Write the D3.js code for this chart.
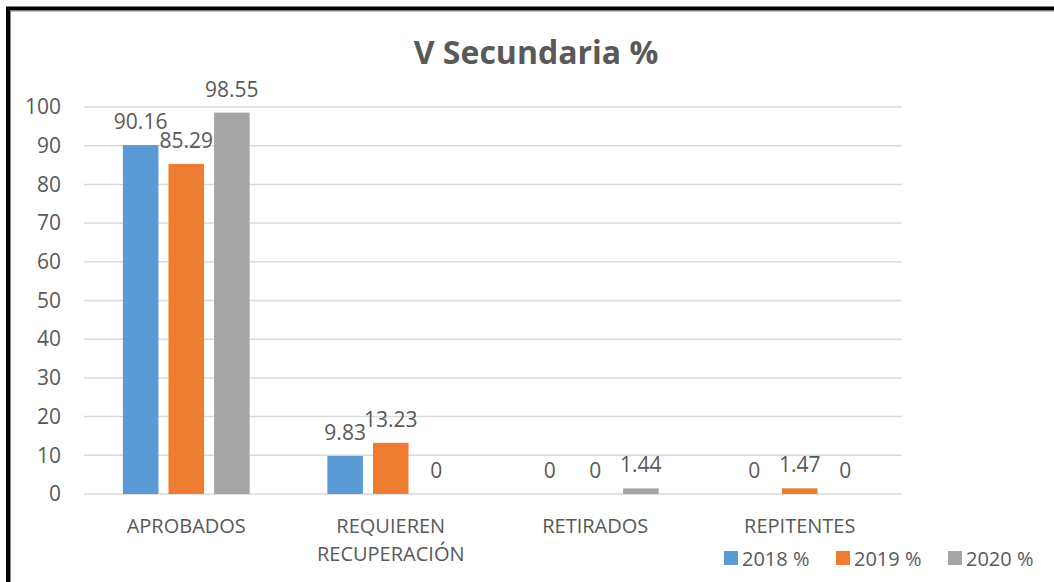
<!DOCTYPE html>
<html>
<head>
<meta charset="utf-8">
<script src="https://cdn.jsdelivr.net/npm/d3@7"></script>
<style>
  body { margin: 0; background: #fff; }
  svg text { font-family: "Open Sans", sans-serif; fill: #595959; }
</style>
</head>
<body>
<svg id="chart"></svg>
<script>
// categories, series and ticks
const categories = [["APROBADOS"], ["REQUIEREN", "RECUPERACIÓN"], ["RETIRADOS"], ["REPITENTES"]];
const seriesNames = ["2018 %", "2019 %", "2020 %"];
const values2018 = [90.16, 9.83, 0, 0];
const values2019 = [85.29, 13.23, 0, 1.47];
const values2020 = [98.55, 0, 1.44, 0];
const yTicks = [0, 10, 20, 30, 40, 50, 60, 70, 80, 90, 100];
const colors = ["#5b9bd5", "#ed7d31", "#a5a5a5"];

const W = 1054, H = 582;
const margin = { top: 107, right: 152, bottom: 88, left: 84 };
const width = W - margin.left - margin.right;
const height = H - margin.top - margin.bottom;

const svg = d3.select("#chart").attr("width", W).attr("height", H);

// frame
svg.append("rect")
    .attr("x", 8).attr("y", 8.5)
    .attr("width", W + 20).attr("height", H + 20)
    .attr("fill", "none").attr("stroke", "#000").attr("stroke-width", 4);
svg.append("rect")
    .attr("x", 10.5).attr("y", 11)
    .attr("width", W + 20).attr("height", H + 20)
    .attr("fill", "none").attr("stroke", "#808080").attr("stroke-width", 1);

const g = svg.append("g").attr("transform", `translate(${margin.left},${margin.top})`);

const keys = categories.map(c => c.join(" "));
const series = [values2018, values2019, values2020];

const x = d3.scaleBand().domain(keys).range([0, width]).paddingInner(0).paddingOuter(0);
const x1 = d3.scaleBand().domain(d3.range(seriesNames.length))
    .range([x.bandwidth() * 0.19, x.bandwidth() * 0.81]).paddingInner(0.22);
const y = d3.scaleLinear().domain([0, 100]).range([height, 0]);

// gridlines
g.append("g")
    .selectAll("line")
    .data(yTicks)
    .join("line")
    .attr("x1", 0).attr("x2", width)
    .attr("y1", d => y(d)).attr("y2", d => y(d))
    .attr("stroke", "#d9d9d9").attr("stroke-width", 1.5);

// y axis
const yAxis = d3.axisLeft(y).tickValues(yTicks).tickSize(0).tickPadding(23);
g.append("g").call(yAxis)
    .call(a => a.select(".domain").remove())
    .selectAll("text")
    .style("font-size", "21px")
    .attr("fill", "#595959");

// bars
keys.forEach((k, ci) => {
    const grp = g.append("g").attr("transform", `translate(${x(k)},0)`);
    series.forEach((vals, si) => {
        const v = vals[ci];
        grp.append("rect")
            .attr("x", x1(si))
            .attr("y", y(v))
            .attr("width", x1.bandwidth())
            .attr("height", height - y(v))
            .attr("fill", colors[si]);
        grp.append("text")
            .attr("x", x1(si) + x1.bandwidth() / 2)
            .attr("y", y(v) - 16)
            .attr("text-anchor", "middle")
            .style("font-size", "21px")
            .text(v);
    });
});

// category labels
const xl = g.append("g").attr("transform", `translate(0,${height})`);
categories.forEach((lines, ci) => {
    const t = xl.append("text")
        .attr("x", x(keys[ci]) + x.bandwidth() / 2)
        .attr("y", 39)
        .attr("text-anchor", "middle")
        .style("font-size", "20px");
    lines.forEach((l, i) => {
        t.append("tspan")
            .attr("x", x(keys[ci]) + x.bandwidth() / 2)
            .attr("dy", i === 0 ? 0 : 28)
            .text(l);
    });
});

// title
svg.append("text")
    .attr("x", 536).attr("y", 64)
    .attr("text-anchor", "middle")
    .style("font-size", "32px")
    .style("font-weight", "bold")
    .text("V Secundaria %");

// legend
const legendX = [724, 836, 948];
const legend = svg.append("g").attr("transform", "translate(0,551)");
seriesNames.forEach((n, i) => {
    legend.append("rect")
        .attr("x", legendX[i]).attr("y", 0)
        .attr("width", 14).attr("height", 14)
        .attr("fill", colors[i]);
    legend.append("text")
        .attr("x", legendX[i] + 18).attr("y", 15)
        .style("font-size", "20px")
        .text(n);
});
</script>
</body>
</html>
